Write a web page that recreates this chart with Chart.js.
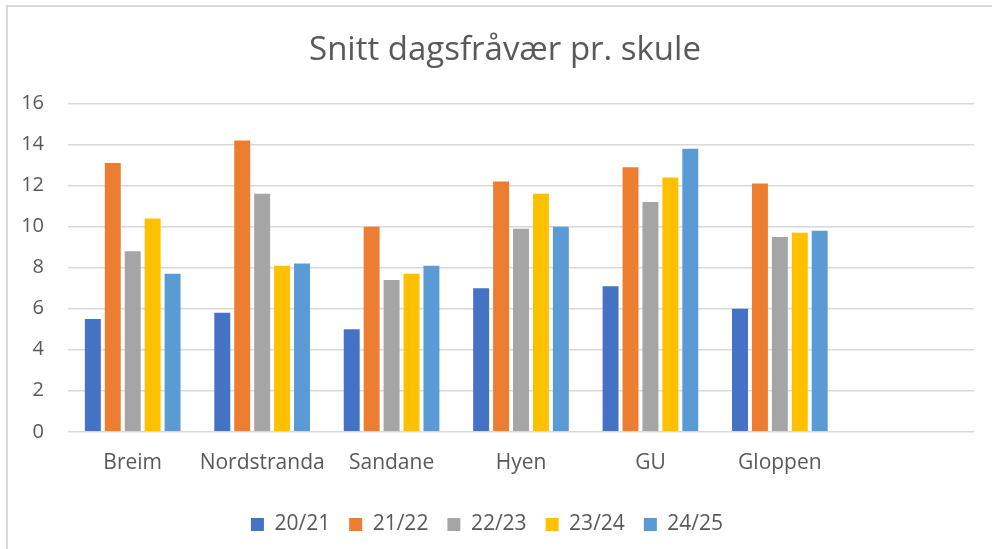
<!DOCTYPE html>
<html>
<head>
<meta charset="utf-8">
<script src="https://cdn.jsdelivr.net/npm/chart.js@4"></script>
<style>
  body { margin: 0; background: #fff; }
  #wrap { position: relative; width: 992px; height: 549px; }
  #frame { position: absolute; top: 5px; left: 6px; right: 0; bottom: 0;
           border-top: 2px solid #d9d9d9; border-left: 2px solid #d9d9d9; }
  canvas { position: absolute; top: 0; left: 0; }
</style>
</head>
<body>
<div id="wrap">
  <div id="frame"></div>
  <canvas id="fravaerChart" width="992" height="549"></canvas>
</div>
<script>
// Skular og skuleår
const skular = ['Breim', 'Nordstranda', 'Sandane', 'Hyen', 'GU', 'Gloppen', ''];
const aar2021 = [5.5, 5.8, 5.0, 7.0, 7.1, 6.0];
const aar2122 = [13.1, 14.2, 10.0, 12.2, 12.9, 12.1];
const aar2223 = [8.8, 11.6, 7.4, 9.9, 11.2, 9.5];
const aar2324 = [10.4, 8.1, 7.7, 11.6, 12.4, 9.7];
const aar2425 = [7.7, 8.2, 8.1, 10.0, 13.8, 9.8];
const yTicks = [0, 2, 4, 6, 8, 10, 12, 14, 16];

const tekstFarge = '#595959';
const font = 'Open Sans';

// tittelen står litt til høgre for midten i originalen
const flyttTittel = {
  id: 'flyttTittel',
  afterLayout(chart) {
    chart.titleBlock.left += 36;
  }
};

const ctx = document.getElementById('fravaerChart').getContext('2d');
new Chart(ctx, {
  type: 'bar',
  data: {
    labels: skular,
    datasets: [
      { label: '20/21', data: aar2021, backgroundColor: '#4472C4' },
      { label: '21/22', data: aar2122, backgroundColor: '#ED7D31' },
      { label: '22/23', data: aar2223, backgroundColor: '#A5A5A5' },
      { label: '23/24', data: aar2324, backgroundColor: '#FFC000' },
      { label: '24/25', data: aar2425, backgroundColor: '#5B9BD5' }
    ]
  },
  options: {
    responsive: false,
    animation: false,
    categoryPercentage: 0.77,
    barPercentage: 0.8,
    layout: { padding: { left: 0, right: 18, top: 0, bottom: 4 } },
    scales: {
      x: {
        grid: { display: false, drawTicks: false },
        border: { display: false },
        ticks: { color: tekstFarge, font: { family: font, size: 21 }, padding: 19,
                 maxRotation: 0, autoSkip: false }
      },
      y: {
        min: 0,
        max: 16,
        afterBuildTicks: (axis) => { axis.ticks = yTicks.map(v => ({ value: v })); },
        afterFit: (axis) => { axis.width = 68; },
        grid: { color: '#d9d9d9', lineWidth: 1.5, drawTicks: false },
        border: { display: false },
        ticks: { color: tekstFarge, font: { family: font, size: 20 }, padding: 24 }
      }
    },
    plugins: {
      title: {
        display: true,
        text: 'Snitt dagsfråvær pr. skule',
        color: tekstFarge,
        font: { family: font, size: 33, weight: 'normal' },
        padding: { top: 31, bottom: 33 }
      },
      legend: {
        position: 'bottom',
        labels: {
          color: tekstFarge,
          font: { family: font, size: 21 },
          boxWidth: 13,
          boxHeight: 13,
          padding: 19
        }
      },
      tooltip: { enabled: false }
    }
  },
  plugins: [flyttTittel]
});
</script>
</body>
</html>
